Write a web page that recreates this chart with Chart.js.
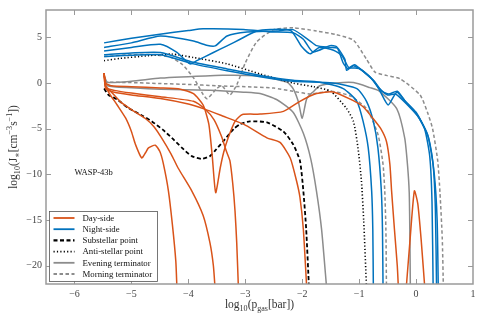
<!DOCTYPE html>
<html>
<head>
<meta charset="utf-8">
<script src="https://cdn.jsdelivr.net/npm/chart.js@4.4.1/dist/chart.umd.min.js"></script>
<style>
  body { margin: 0; background: #fff; }
  #wrap { width: 483px; height: 322px; }
</style>
</head>
<body>
<div id="wrap"><canvas id="chart"></canvas></div>
<script>
// axis ticks
const xTickVals = [-6, -5, -4, -3, -2, -1, 0, 1];
const yTickVals = [-20, -15, -10, -5, 0, 5];

// day-side curves [log10 p, log10 J]
const dayA = [[-5.48,1.1],[-5.45,-0.4],[-5.38,-1.2],[-5.25,-2.4],[-5.1,-3.85],[-5.0,-5.3],[-4.93,-6.7],[-4.82,-8.2],[-4.75,-7.6],[-4.7,-7.1],[-4.58,-6.8],[-4.5,-7.5],[-4.44,-8.8],[-4.35,-11.8],[-4.28,-15.5],[-4.22,-19.5],[-4.2,-22.5]];
const dayB = [[-5.48,1.1],[-5.45,-0.3],[-5.35,-1.0],[-5.2,-2.0],[-5.0,-2.9],[-4.76,-3.85],[-4.6,-4.8],[-4.47,-6.0],[-4.3,-7.8],[-4.18,-9.3],[-3.94,-11.8],[-3.74,-14.5],[-3.62,-17.5],[-3.56,-20],[-3.53,-22.5]];
const dayC = [[-5.48,1.1],[-5.45,0.0],[-5.35,-0.3],[-5.0,-0.4],[-4.49,-0.53],[-4.14,-0.67],[-3.91,-1.15],[-3.74,-2.4],[-3.64,-4.5],[-3.58,-8.0],[-3.52,-12.0],[-3.44,-9.3],[-3.38,-7.6],[-3.3,-6.0],[-3.18,-4.2],[-3.05,-3.45],[-2.74,-3.4],[-2.33,-3.1],[-2.04,-2.0],[-1.75,-1.15],[-1.46,-0.97],[-1.11,-1.9],[-0.93,-2.6],[-0.76,-3.85],[-0.62,-5.0],[-0.52,-6.4],[-0.46,-8.9],[-0.43,-11.8],[-0.38,-16],[-0.33,-20],[-0.31,-22.5]];
const dayD = [[-5.48,1.1],[-5.45,-0.5],[-5.3,-0.8],[-5.0,-1.1],[-4.49,-1.5],[-3.91,-2.0],[-3.7,-2.9],[-3.55,-4.0],[-3.42,-5.8],[-3.33,-7.5],[-3.27,-8.5],[-3.22,-11],[-3.18,-14],[-3.15,-17.5],[-3.12,-22.5]];
const dayE = [[-5.48,1.1],[-5.45,-0.6],[-5.3,-1.0],[-5.0,-1.3],[-4.49,-1.7],[-4.0,-2.3],[-3.74,-2.8],[-3.4,-3.6],[-3.03,-4.5],[-2.62,-6.0],[-2.39,-6.5],[-2.21,-8.2],[-2.1,-10.7],[-2.04,-12.5],[-1.98,-16],[-1.92,-22.5]];
const dayF = [[-0.18,-23],[-0.11,-17.5],[-0.03,-11.8],[0.03,-13.2],[0.09,-17.2],[0.16,-23]];

// night-side curves
const nightA = [[-5.48,4.4],[-5,4.9],[-4.5,5.35],[-4,5.75],[-3.74,5.94],[-3.03,5.87],[-2.56,5.6],[-2.16,5.5],[-1.98,4.8],[-1.81,3.4],[-1.51,4.1],[-1.4,4.0],[-1.25,2.6],[-1.22,1.4],[-1.1,1.9],[-0.93,1.3],[-0.75,0.3],[-0.64,-0.8],[-0.49,-2.4],[-0.34,-1.0],[-0.2,-1.9],[0.0,-3.2],[0.15,-5.0],[0.24,-8],[0.28,-13],[0.3,-22.5]];
const nightB = [[-5.48,3.9],[-5,4.4],[-4.49,5.15],[-3.91,4.6],[-3.68,4.14],[-3.53,4.07],[-3.32,5.15],[-2.97,5.58],[-2.45,5.7],[-2.16,5.85],[-1.86,4.6],[-1.75,4.1],[-1.51,3.9],[-1.38,3.8],[-1.28,2.2],[-1.2,1.6],[-1.08,2.0],[-0.9,1.1],[-0.72,0.1],[-0.6,-0.9],[-0.48,-1.2],[-0.33,-0.9],[-0.18,-2.1],[0.02,-3.5],[0.2,-5.6],[0.3,-9],[0.34,-14],[0.36,-22.5]];
const nightC = [[-5.48,3.5],[-5,3.9],[-4.49,4.25],[-4.2,3.35],[-3.97,2.1],[-3.85,2.45],[-3.56,3.35],[-3.32,4.07],[-3.09,4.8],[-2.8,5.7],[-2.56,5.87],[-2.2,5.75],[-2.01,4.0],[-1.86,3.2],[-1.7,3.9],[-1.45,3.6],[-1.3,3.0],[-1.18,1.7],[-1.0,1.6],[-0.8,0.6],[-0.66,-0.5],[-0.5,-1.3],[-0.36,-1.2],[-0.15,-2.4],[0.05,-3.8],[0.22,-6],[0.32,-10],[0.37,-15],[0.39,-22.5]];
const nightD = [[-5.48,3.1],[-5,3.3],[-4.49,3.35],[-3.91,2.27],[-3.32,1.55],[-2.74,0.84],[-2.16,0.3],[-1.69,0.1],[-1.28,-0.6],[-1.04,-2.0],[-0.93,-4.2],[-0.84,-7.1],[-0.78,-11.8],[-0.76,-16],[-0.75,-22.5]];
const nightE = [[-5.48,2.9],[-5,3.05],[-4.49,3.1],[-3.91,2.1],[-3.32,1.35],[-2.74,0.7],[-2.16,0.2],[-1.46,0.0],[-1.04,-0.6],[-0.87,-2.0],[-0.75,-4.2],[-0.67,-7.1],[-0.61,-11.8],[-0.59,-16],[-0.58,-22.5]];

// single-point profiles and terminators
const substellar = [[-5.48,-0.6],[-5.4,-1.3],[-5.25,-1.8],[-5.06,-2.7],[-4.8,-3.6],[-4.64,-4.2],[-4.45,-5.1],[-4.29,-6.0],[-4.11,-7.1],[-3.94,-8.0],[-3.76,-8.3],[-3.62,-8.0],[-3.53,-7.4],[-3.39,-6.4],[-3.2,-5.0],[-3.09,-4.5],[-2.92,-4.2],[-2.62,-4.3],[-2.33,-5.3],[-2.16,-6.7],[-2.04,-8.5],[-1.98,-11.8],[-1.93,-16],[-1.88,-22.5]];
const antistellar = [[-5.48,2.45],[-5.2,2.7],[-4.7,3.0],[-4.29,3.17],[-3.91,2.8],[-3.32,2.1],[-2.74,1.0],[-2.16,0.0],[-1.8,-0.4],[-1.5,-0.9],[-1.22,-2.8],[-1.1,-4.2],[-1.02,-7.1],[-0.96,-10.7],[-0.92,-15],[-0.87,-22.5]];
const evening1 = [[-5.48,0.8],[-5.42,0.1],[-5,0.2],[-4.49,0.55],[-3.53,0.84],[-3.32,0.85],[-2.74,0.76],[-2.27,0.1],[-2.16,-0.6],[-2.07,-2.0],[-2.0,-3.85],[-1.92,-1.7],[-1.81,-0.97],[-1.69,-0.3],[-1.4,0.0],[-1.1,0.05],[-0.81,-0.5],[-0.64,-0.9],[-0.34,-2.8],[-0.2,-6],[-0.15,-9],[-0.12,-12],[-0.11,-16],[-0.1,-22.5]];
const evening2 = [[-5.48,0.8],[-5.42,-0.3],[-5,-0.5],[-4.49,-0.67],[-3.62,-0.8],[-3.03,-1.0],[-2.74,-1.15],[-2.45,-1.8],[-2.16,-3.2],[-1.98,-5.5],[-1.85,-8.3],[-1.75,-11.8],[-1.66,-16],[-1.57,-22.5]];
const morning1 = [[-5.48,2.9],[-5,3.1],[-4.6,3.1],[-4.3,2.8],[-4.1,2.0],[-3.9,0.5],[-3.68,-1.7],[-3.5,-0.6],[-3.41,-0.3],[-3.27,-1.3],[-3.15,-0.2],[-3.0,2.2],[-2.8,4.5],[-2.5,5.85],[-2.16,6.05],[-1.75,5.7],[-1.4,5.3],[-1.1,4.7],[-0.87,2.6],[-0.72,1.2],[-0.52,0.84],[-0.28,0.47],[0.07,-1.3],[0.2,-3.2],[0.29,-5],[0.38,-8.5],[0.42,-12],[0.46,-17],[0.48,-22.5]];
const morning2 = [[-5.48,0.1],[-5,0.05],[-4.5,-0.05],[-4,-0.15],[-3.5,-0.3],[-3,-0.4],[-2.5,-0.55],[-2.16,-0.9],[-1.86,-1.2],[-1.5,-0.9],[-1.16,-1.4],[-0.87,-2.8],[-0.67,-5.6],[-0.58,-8.9],[-0.55,-11.8],[-0.53,-16],[-0.52,-22.5]];

const ORANGE = '#D95319', BLUE = '#0072BD', GRAY = '#8c8c8c';
const SERIF = '"Liberation Serif", "DejaVu Serif", serif';

const groups = [
  { label: 'Day-side', color: ORANGE, dash: [], width: 1.5, curves: [dayA, dayB, dayC, dayD, dayE, dayF] },
  { label: 'Night-side', color: BLUE, dash: [], width: 1.5, curves: [nightA, nightB, nightC, nightD, nightE] },
  { label: 'Substellar point', color: '#000', dash: [4, 2.5], width: 1.8, curves: [substellar] },
  { label: 'Anti-stellar point', color: '#000', dash: [1.2, 2.2], width: 1.6, curves: [antistellar] },
  { label: 'Evening terminator', color: GRAY, dash: [], width: 1.5, curves: [evening1, evening2] },
  { label: 'Morning terminator', color: GRAY, dash: [3.5, 2.5], width: 1.5, curves: [morning1, morning2] }
];

const datasets = [];
groups.forEach(g => {
  g.curves.forEach(c => {
    datasets.push({
      label: g.label,
      data: c.map(p => ({ x: p[0], y: p[1] })),
      borderColor: g.color,
      borderDash: g.dash,
      borderWidth: g.width,
      pointRadius: 0,
      showLine: true,
      tension: 0.2,
      fill: false
    });
  });
});

const fmt = v => (v < 0 ? '\u2212' + Math.abs(v) : String(v));

function richWidth(ctx, parts, size) {
  let w = 0;
  parts.forEach(p => {
    ctx.font = (p.k ? size * 0.7 : size) + 'px ' + SERIF;
    w += ctx.measureText(p.t).width;
  });
  return w;
}
function drawRich(ctx, parts, x, y, size) {
  parts.forEach(p => {
    const s = p.k ? size * 0.7 : size;
    ctx.font = s + 'px ' + SERIF;
    const dy = p.k === 'sub' ? size * 0.28 : (p.k === 'sup' ? -size * 0.42 : 0);
    ctx.fillText(p.t, x, y + dy);
    x += ctx.measureText(p.t).width;
  });
}

const xTitle = [{ t: 'log' }, { t: '10', k: 'sub' }, { t: '(p' }, { t: 'gas', k: 'sub' }, { t: '[bar])' }];
const yTitle = [{ t: 'log' }, { t: '10', k: 'sub' }, { t: '(J' }, { t: '\u2217', k: 'sub' }, { t: '[cm' }, { t: '\u22123', k: 'sup' }, { t: 's' }, { t: '\u22121', k: 'sup' }, { t: '])' }];

const decor = {
  id: 'decor',
  afterDraw(chart) {
    const { ctx, chartArea: a, scales: { x, y } } = chart;
    ctx.save();
    // inward ticks on all four sides
    ctx.strokeStyle = '#999';
    ctx.lineWidth = 1;
    const tl = 5;
    ctx.beginPath();
    xTickVals.forEach(v => {
      const px = Math.round(x.getPixelForValue(v)) + 0.5;
      if (px <= a.left + 1 || px >= a.right - 1) return;
      ctx.moveTo(px, a.bottom); ctx.lineTo(px, a.bottom - tl);
      ctx.moveTo(px, a.top); ctx.lineTo(px, a.top + tl);
    });
    yTickVals.forEach(v => {
      const py = Math.round(y.getPixelForValue(v)) + 0.5;
      ctx.moveTo(a.left, py); ctx.lineTo(a.left + tl, py);
      ctx.moveTo(a.right, py); ctx.lineTo(a.right - tl, py);
    });
    ctx.stroke();
    // frame
    ctx.lineWidth = 1.5;
    ctx.strokeStyle = '#9a9a9a';
    ctx.strokeRect(a.left, a.top, a.right - a.left, a.bottom - a.top);

    // planet name
    ctx.fillStyle = '#111';
    ctx.font = '8.5px ' + SERIF;
    ctx.textBaseline = 'middle';
    ctx.textAlign = 'left';
    ctx.fillText('WASP-43b', x.getPixelForValue(-6.0), y.getPixelForValue(-9.8));

    // legend
    const lx = 49.5, ly = 211.5, lw = 108, lh = 70;
    ctx.fillStyle = '#fff';
    ctx.fillRect(lx, ly, lw, lh);
    ctx.strokeStyle = '#555';
    ctx.lineWidth = 0.8;
    ctx.strokeRect(lx, ly, lw, lh);
    ctx.font = '8.8px ' + SERIF;
    groups.forEach((g, i) => {
      const ry = ly + 6.5 + i * 11.2;
      ctx.beginPath();
      ctx.setLineDash(g.dash);
      ctx.strokeStyle = g.color;
      ctx.lineWidth = g.width + 0.3;
      ctx.moveTo(lx + 4, ry); ctx.lineTo(lx + 25, ry);
      ctx.stroke();
      ctx.setLineDash([]);
      ctx.fillStyle = '#111';
      ctx.fillText(g.label, lx + 33, ry + 0.5);
    });

    // axis titles
    ctx.fillStyle = '#333';
    ctx.textBaseline = 'alphabetic';
    const ts = 11.5;
    const xw = richWidth(ctx, xTitle, ts);
    drawRich(ctx, xTitle, (a.left + a.right) / 2 - xw / 2, 308, ts);
    const yw = richWidth(ctx, yTitle, ts);
    ctx.translate(17, (a.top + a.bottom) / 2);
    ctx.rotate(-Math.PI / 2);
    drawRich(ctx, yTitle, -yw / 2, 0, ts);
    ctx.restore();
  }
};

new Chart(document.getElementById('chart'), {
  type: 'scatter',
  data: { datasets },
  options: {
    responsive: true,
    maintainAspectRatio: false,
    animation: false,
    layout: { padding: { left: 0, right: 10, top: 6, bottom: 0 } },
    plugins: { legend: { display: false }, tooltip: { enabled: false } },
    scales: {
      x: {
        type: 'linear', min: -6.5, max: 1,
        grid: { display: false, drawTicks: false },
        border: { display: false },
        afterBuildTicks: s => { s.ticks = xTickVals.map(v => ({ value: v })); },
        afterFit: s => { s.height = 38; },
        ticks: { callback: fmt, color: '#444', padding: 4, maxRotation: 0, autoSkip: false, font: { family: SERIF, size: 10 } }
      },
      y: {
        type: 'linear', min: -22, max: 8,
        grid: { display: false, drawTicks: false },
        border: { display: false },
        afterBuildTicks: s => { s.ticks = yTickVals.map(v => ({ value: v })); },
        afterFit: s => { s.width = 46; },
        ticks: { callback: fmt, color: '#444', padding: 4, autoSkip: false, font: { family: SERIF, size: 10 } }
      }
    }
  },
  plugins: [decor]
});
</script>
</body>
</html>
